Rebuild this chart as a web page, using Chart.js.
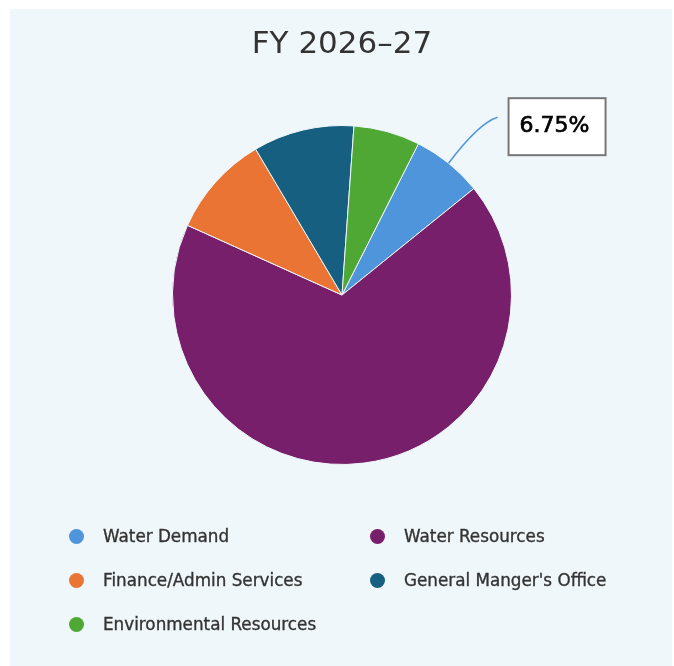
<!DOCTYPE html>
<html>
<head>
<meta charset="utf-8">
<script src="https://cdn.jsdelivr.net/npm/chart.js@4/dist/chart.umd.min.js"></script>
<style>
  html, body { margin: 0; padding: 0; background: #ffffff; }
  #panel { position: absolute; left: 10px; top: 9px; width: 662px; height: 660px; background: #f0f7fb; }
  #wrap { position: absolute; left: 0; top: 0; width: 674px; height: 666px; }
  #legend { position: absolute; left: 0; top: 0; width: 674px; height: 666px; pointer-events: none;
    font-family: "DejaVu Sans", sans-serif; font-size: 16.8px; font-weight: normal; color: #333333;
    -webkit-text-stroke: 0.35px #333333; }
  .item { position: absolute; white-space: nowrap; line-height: 20px; }
  .dot { position: absolute; width: 15px; height: 15px; border-radius: 50%; }
</style>
</head>
<body>
<div id="panel"></div>
<div id="wrap"><canvas id="c" width="674" height="666"></canvas></div>
<div id="legend"></div>
<script>
const categories = ["Water Demand", "Water Resources", "Finance/Admin Services", "General Manger's Office", "Environmental Resources"];
const shares = [6.75, 67.55, 9.75, 9.63, 6.32];
const sliceColors = ["#4f95db", "#771f6b", "#e97433", "#165f81", "#4fa833"];
const titleText = "FY 2026\u201327";
const calloutIndex = 0;

const calloutPlugin = {
  id: 'callout',
  afterDatasetsDraw(chart) {
    const arc = chart.getDatasetMeta(0).data[calloutIndex];
    if (!arc) return;
    const ctx = chart.ctx;
    const mid = (arc.startAngle + arc.endAngle) / 2;
    const r = arc.outerRadius;
    const sx = arc.x + Math.cos(mid) * r;
    const sy = arc.y + Math.sin(mid) * r;
    const ex = sx + 49, ey = sy - 46;
    ctx.save();
    ctx.strokeStyle = sliceColors[calloutIndex];
    ctx.lineWidth = 1.5;
    ctx.beginPath();
    ctx.moveTo(sx, sy);
    ctx.quadraticCurveTo(sx + 30, sy - 40, ex, ey);
    ctx.stroke();
    const bx = ex + 11, by = ey - 19, bw = 97, bh = 57;
    ctx.fillStyle = '#ffffff';
    ctx.fillRect(bx, by, bw, bh);
    ctx.strokeStyle = '#777777';
    ctx.lineWidth = 2;
    ctx.strokeRect(bx, by, bw, bh);
    ctx.fillStyle = '#000000';
    ctx.strokeStyle = '#000000';
    ctx.lineWidth = 0.7;
    ctx.font = 'normal 22px "DejaVu Sans", sans-serif';
    ctx.textBaseline = 'middle';
    ctx.textAlign = 'left';
    const label = shares[calloutIndex].toFixed(2) + '%';
    ctx.fillText(label, bx + 11, by + bh / 2);
    ctx.strokeText(label, bx + 11, by + bh / 2);
    ctx.restore();
  }
};

const chart = new Chart(document.getElementById('c'), {
  type: 'pie',
  data: {
    labels: categories,
    datasets: [{
      data: shares,
      backgroundColor: sliceColors,
      borderColor: '#f0f7fb',
      borderWidth: 1
    }]
  },
  options: {
    responsive: false,
    animation: false,
    rotation: 26.8,
    layout: { padding: { left: 172, right: 162, top: 26, bottom: 201 } },
    plugins: {
      legend: { display: false },
      tooltip: { enabled: false },
      title: {
        display: true,
        text: titleText,
        color: '#333333',
        font: { family: '"DejaVu Sans", sans-serif', size: 31, weight: 'normal', lineHeight: 1.2 },
        padding: { top: 0, bottom: 61.8 }
      }
    }
  },
  plugins: [calloutPlugin]
});

// HTML legend built from the chart's labels and colours
const legend = document.getElementById('legend');
const colX = [69, 370];
const rowY = [536, 580, 624];
categories.forEach((name, i) => {
  const col = i % 2, row = Math.floor(i / 2);
  const dot = document.createElement('div');
  dot.className = 'dot';
  dot.style.background = sliceColors[i];
  dot.style.left = colX[col] + 'px';
  dot.style.top = (rowY[row] - 7.5) + 'px';
  legend.appendChild(dot);
  const t = document.createElement('div');
  t.className = 'item';
  t.textContent = name;
  t.style.left = (colX[col] + 34) + 'px';
  t.style.top = (rowY[row] - 10) + 'px';
  legend.appendChild(t);
});
</script>
</body>
</html>
